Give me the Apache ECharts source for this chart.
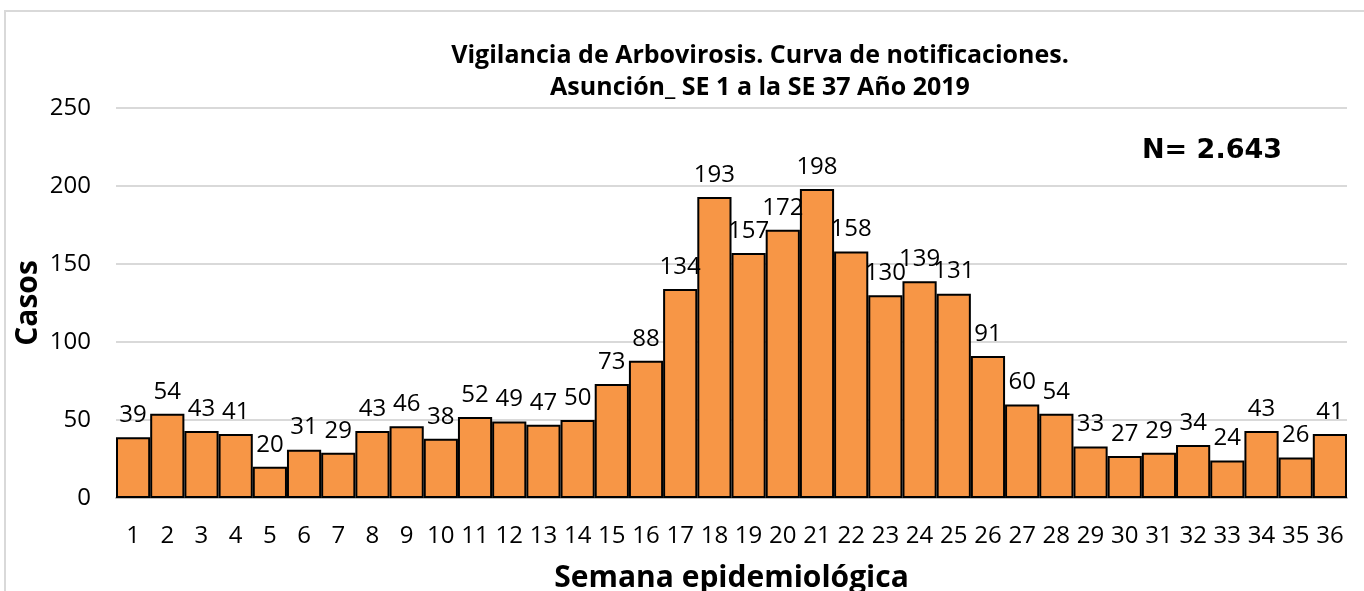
<!DOCTYPE html>
<html>
<head>
<meta charset="utf-8">
<script src="https://cdn.jsdelivr.net/npm/echarts@6/dist/echarts.min.js"></script>
<style>
  html, body { margin: 0; padding: 0; background: #fff; }
  #frame { position: absolute; left: 4px; top: 10px; width: 1400px; height: 620px; border: 2px solid #d9d9d9; box-sizing: border-box; }
  #chart { position: absolute; left: 0; top: 0; width: 1364px; height: 591px; }
</style>
</head>
<body>
<div id="frame"></div>
<div id="chart"></div>
<script>
// semanas epidemiologicas 1..36
var semanas = ['1','2','3','4','5','6','7','8','9','10','11','12','13','14','15','16','17','18',
               '19','20','21','22','23','24','25','26','27','28','29','30','31','32','33','34','35','36'];
var casos = [39, 54, 43, 41, 20, 31, 29, 43, 46, 38, 52, 49, 47, 50, 73, 88, 134, 193,
             157, 172, 198, 158, 130, 139, 131, 91, 60, 54, 33, 27, 29, 34, 24, 43, 26, 41];
var yTicks = [0, 50, 100, 150, 200, 250];

var fuente = '"Open Sans", "Noto Sans", sans-serif';

option = {
    animation: false,
    title: {
        text: 'Vigilancia de Arbovirosis. Curva de notificaciones.\nAsunción_ SE 1 a la SE 37 Año 2019',
        left: 755,
        top: 35,
        textAlign: 'center',
        textStyle: {
            fontFamily: fuente,
            fontWeight: 'bold',
            fontSize: 25,
            lineHeight: 32,
            color: '#000'
        }
    },
    graphic: [
        {
            type: 'text',
            left: 1142,
            top: 137,
            style: {
                text: 'N= 2.643',
                font: 'bold 27px "DejaVu Sans", sans-serif',
                fill: '#000'
            }
        }
    ],
    grid: {
        left: 116,
        right: 17,
        top: 108,
        bottom: 93,
        outerBoundsMode: 'none'
    },
    xAxis: [
        {
            type: 'category',
            data: semanas,
            name: 'Semana epidemiológica',
            nameLocation: 'middle',
            nameGap: 65,
            nameTextStyle: {
                fontFamily: fuente,
                fontWeight: 'bold',
                fontSize: 30,
                color: '#000'
            },
            axisLine: { lineStyle: { color: '#bfbfbf', width: 2 } },
            axisTick: { show: false },
            axisLabel: {
                fontFamily: fuente,
                fontSize: 24,
                color: '#000',
                margin: 26,
                interval: 0
            }
        }
    ],
    yAxis: [
        {
            type: 'value',
            min: 0,
            max: yTicks[yTicks.length - 1],
            interval: 50,
            name: 'Casos',
            nameLocation: 'middle',
            nameGap: 73,
            nameMoveOverlap: false,
            nameTextStyle: {
                fontFamily: fuente,
                fontWeight: 'bold',
                fontSize: 30,
                color: '#000'
            },
            axisLine: { show: false },
            axisTick: { show: false },
            axisLabel: {
                fontFamily: fuente,
                fontSize: 24,
                color: '#000',
                margin: 25
            },
            splitLine: { lineStyle: { color: '#d9d9d9', width: 2 } }
        }
    ],
    series: [
        {
            name: 'Casos',
            type: 'bar',
            data: casos,
            barCategoryGap: '0%',
            itemStyle: {
                color: '#f79646',
                borderColor: '#000',
                borderWidth: 2
            },
            label: {
                show: true,
                position: 'top',
                distance: 10,
                fontFamily: fuente,
                fontSize: 24,
                color: '#000'
            }
        }
    ]
};

var myChart = echarts.init(document.getElementById('chart'));
myChart.setOption(option);
</script>
</body>
</html>
